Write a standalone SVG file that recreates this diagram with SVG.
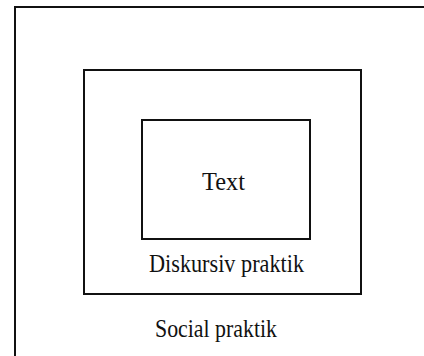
<svg xmlns="http://www.w3.org/2000/svg" width="424" height="356" viewBox="0 0 424 356">
<style>
.box{fill:none;stroke:#111;stroke-width:2}
.lbl{font-family:"Liberation Serif","Times New Roman",serif;font-size:26px;fill:#111;text-anchor:middle}
</style>
<rect width="424" height="356" fill="#fff"/>
<g id="social">
<path class="box" d="M15,358 V7 H426"/>
<text class="lbl" x="216" y="337" textLength="122" lengthAdjust="spacingAndGlyphs">Social praktik</text>
</g>
<g id="diskursiv">
<rect class="box" x="84" y="70" width="277" height="224"/>
<text class="lbl" x="226.5" y="272" textLength="155" lengthAdjust="spacingAndGlyphs">Diskursiv praktik</text>
</g>
<g id="text">
<rect class="box" x="142" y="120" width="168" height="119"/>
<text class="lbl" x="223.5" y="190" textLength="43" lengthAdjust="spacingAndGlyphs">Text</text>
</g>
<g id="connectors"/>
</svg>
